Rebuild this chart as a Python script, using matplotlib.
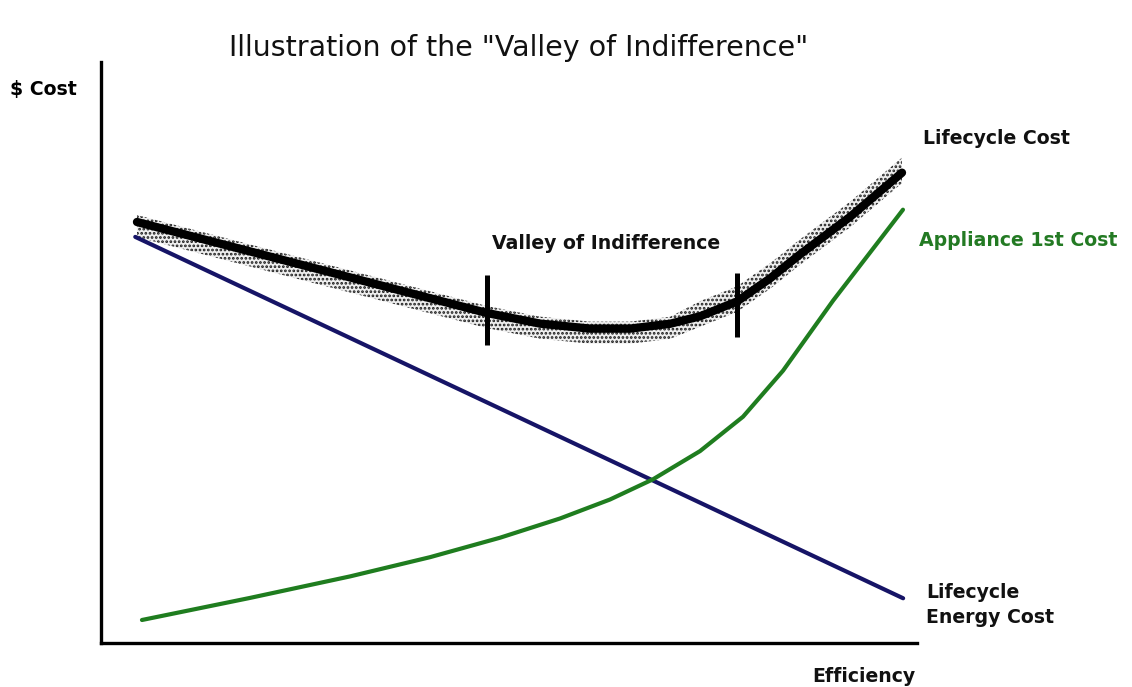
import matplotlib
matplotlib.use("Agg")
import matplotlib.pyplot as plt
import numpy as np

# Data (efficiency 0-100, cost 0-100, arbitrary units)
energy_x = [4.2, 98.3]
energy_y = [69.9, 7.7]

appliance_x = [5.02, 18.26, 30.51, 40.32, 48.90, 56.25, 62.38, 67.65, 73.41, 78.68,
               83.58, 89.71, 94.24, 98.28]
appliance_y = [3.96, 7.76, 11.46, 14.77, 18.12, 21.43, 24.70, 28.18, 33.03, 38.95,
               46.87, 58.92, 67.19, 74.58]

lifecycle_x = [4.41, 20.34, 40.69, 47.30, 53.80, 59.93, 64.83, 69.73, 73.41, 77.94,
               81.99, 85.66, 91.79, 98.16]
lifecycle_y = [72.46, 66.64, 59.21, 56.80, 54.97, 54.11, 54.11, 54.94, 56.23, 58.78,
               62.75, 66.88, 73.34, 80.95]

valley_x = [47.3, 77.9]
valley_lo = [51.3, 52.7]
valley_hi = [63.3, 63.7]

W, H = 1132, 687
fig = plt.figure(figsize=(W / 100, H / 100), dpi=100)
fig.patch.set_facecolor("white")
L, B, R, T = 101, 643, 917, 62
ax = fig.add_axes([L / W, 1 - B / H, (R - L) / W, (B - T) / H])
ax.set_xlim(0, 100)
ax.set_ylim(0, 100)
for s in ["top", "right"]:
    ax.spines[s].set_visible(False)
for s in ["left", "bottom"]:
    ax.spines[s].set_linewidth(2.4)
    ax.spines[s].set_color("black")
ax.set_xticks([])
ax.set_yticks([])

# speckled halo around lifecycle cost line
plt.rcParams["hatch.linewidth"] = 1.3
lx = np.array(lifecycle_x)
ly = np.array(lifecycle_y)
below = np.where(lx < 70, 2.6, 1.8)
above = np.where(lx < 70, 1.2, 2.6)
ax.fill_between(lx, ly - below, ly + above, facecolor="#d0d0d0", edgecolor="none",
                alpha=0.35, zorder=2)
ax.fill_between(lx, ly - below, ly + above, facecolor="none", edgecolor="#1a1a1a",
                hatch="....", linewidth=0, zorder=2)

ax.plot(energy_x, energy_y, color="#161466", lw=3.0, solid_capstyle="round", zorder=3)
ax.plot(appliance_x, appliance_y, color="#1f7d1f", lw=3.0, solid_capstyle="round",
        solid_joinstyle="round", zorder=3)
ax.plot(lifecycle_x, lifecycle_y, color="black", lw=6.0, solid_capstyle="round",
        solid_joinstyle="round", zorder=4)
ax.vlines(valley_x, valley_lo, valley_hi, color="black", lw=3.6, zorder=5)

def ftext(px, py, s, **kw):
    fig.text(px / W, 1 - py / H, s, **kw)

bold = dict(fontfamily="DejaVu Sans", fontweight="bold", fontsize=13.6)
ftext(519, 48, 'Illustration of the "Valley of Indifference"', ha="center", va="center",
      fontsize=20.5, fontfamily="DejaVu Sans", color="#111111")
ftext(10, 90, "$ Cost", ha="left", va="center", **bold)
ftext(923, 138, "Lifecycle Cost", ha="left", va="center", color="#111111", **bold)
ftext(492, 243, "Valley of Indifference", ha="left", va="center", color="#111111", **bold)
ftext(919, 241, "Appliance 1st Cost", ha="left", va="center", color="#237a23", **bold)
ftext(926, 605, "Lifecycle\nEnergy Cost", ha="left", va="center", color="#111111",
      linespacing=1.4, **bold)
ftext(915, 676, "Efficiency", ha="right", va="center", color="#111111", **bold)

fig.savefig("out.png", dpi=100, facecolor="white")
